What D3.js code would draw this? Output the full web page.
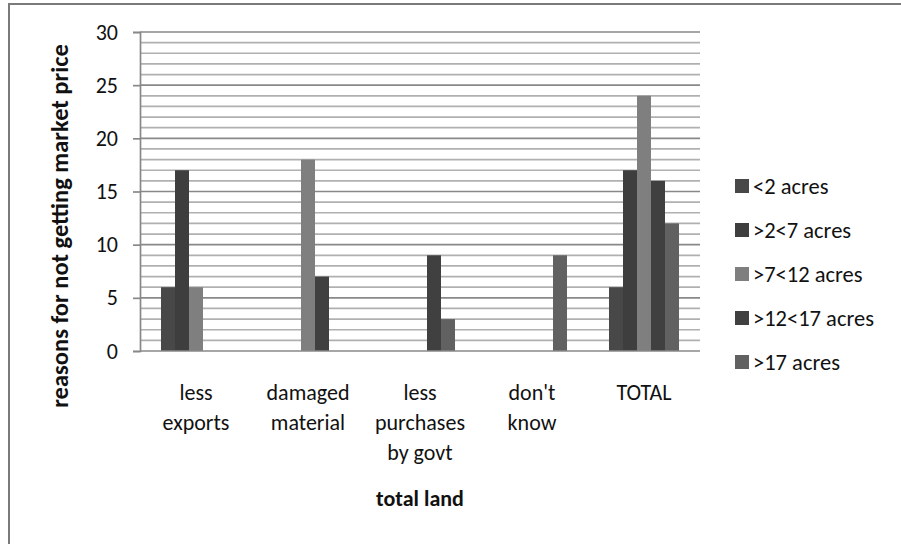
<!DOCTYPE html>
<html>
<head>
<meta charset="utf-8">
<script src="https://cdn.jsdelivr.net/npm/d3@7"></script>
<style>
  html, body { margin: 0; padding: 0; background: #fff; }
  svg { display: block; }
  text { font-family: Carlito, Lato, "Open Sans", sans-serif; fill: #111; }
</style>
</head>
<body>
<svg id="chart" width="901" height="544"></svg>
<script>
// Reasons for not getting market price, by total land holding
const categories = [
  ["less", "exports"],
  ["damaged", "material"],
  ["less", "purchases", "by govt"],
  ["don't", "know"],
  ["TOTAL"]
];
const seriesNames = ["<2 acres", ">2<7 acres", ">7<12 acres", ">12<17 acres", ">17 acres"];
const seriesColors = ["#484848", "#3e3e3e", "#7f7f7f", "#404040", "#616161"];
// one row per series, one value per category (null = no bar)
const lt2 = [6, null, null, null, 6];
const from2to7 = [17, null, null, null, 17];
const from7to12 = [6, 18, null, null, 24];
const from12to17 = [null, 7, 9, null, 16];
const gt17 = [null, null, 3, 9, 12];
const seriesValues = [lt2, from2to7, from7to12, from12to17, gt17];
const yTicks = [0, 5, 10, 15, 20, 25, 30];

const svg = d3.select("#chart");
const plot = { left: 140, right: 700, top: 32, bottom: 351 };

// outer frame of the chart area
svg.append("path")
  .attr("d", "M9,544 V4 H901")
  .attr("fill", "none")
  .attr("stroke", "#7a7a7a")
  .attr("stroke-width", 2);

const catKeys = categories.map((c, i) => i);
const x = d3.scaleBand().domain(catKeys).range([plot.left, plot.right])
  .paddingInner(0.375).paddingOuter(0.1875);
const xs = d3.scaleBand().domain(d3.range(seriesNames.length)).range([0, x.bandwidth()]);
const y = d3.scaleLinear().domain([0, 30]).range([plot.bottom, plot.top]);

// minor gridlines every unit, major every five
const grid = svg.append("g");
grid.selectAll("line.minor")
  .data(d3.range(1, 30).filter(v => v % 5 !== 0))
  .join("line")
  .attr("x1", plot.left).attr("x2", plot.right)
  .attr("y1", d => y(d)).attr("y2", d => y(d))
  .attr("stroke", "#b0b0b0").attr("stroke-width", 1.7);
grid.selectAll("line.major")
  .data(yTicks.filter(v => v > 0))
  .join("line")
  .attr("x1", plot.left).attr("x2", plot.right)
  .attr("y1", d => y(d)).attr("y2", d => y(d))
  .attr("stroke", "#888888").attr("stroke-width", 1.7);

// bars
const bars = [];
seriesValues.forEach((vals, s) => vals.forEach((v, c) => {
  if (v != null) bars.push({ s, c, v });
}));
svg.append("g").selectAll("rect")
  .data(bars)
  .join("rect")
  .attr("x", d => x(d.c) + xs(d.s))
  .attr("width", xs.bandwidth())
  .attr("y", d => y(d.v))
  .attr("height", d => y(0) - y(d.v))
  .attr("fill", d => seriesColors[d.s]);

// y axis
const yAxis = svg.append("g")
  .attr("transform", `translate(${plot.left},0)`)
  .call(d3.axisLeft(y).tickValues(yTicks).tickSize(7).tickPadding(15));
yAxis.select(".domain").attr("stroke", "#888888").attr("stroke-width", 1.7);
yAxis.selectAll(".tick line").attr("stroke", "#888888").attr("stroke-width", 1.7);
yAxis.selectAll(".tick text")
  .attr("font-size", 22).attr("fill", "#111")
  .style("font-family", "Carlito, Lato, 'Open Sans', sans-serif");

// x axis baseline
svg.append("line")
  .attr("x1", plot.left).attr("x2", plot.right)
  .attr("y1", y(0)).attr("y2", y(0))
  .attr("stroke", "#888888").attr("stroke-width", 1.7);

// category labels
const catLabels = svg.append("g").selectAll("text")
  .data(categories)
  .join("text")
  .attr("text-anchor", "middle")
  .attr("font-size", 22)
  .attr("x", (d, i) => x(i) + x.bandwidth() / 2);
catLabels.selectAll("tspan")
  .data(d => d)
  .join("tspan")
  .attr("x", function () { return d3.select(this.parentNode).attr("x"); })
  .attr("y", (d, i) => 392 + i * 30)
  .attr("dominant-baseline", "central")
  .text(d => d);

// axis titles
svg.append("text")
  .attr("x", (plot.left + plot.right) / 2)
  .attr("y", 498)
  .attr("text-anchor", "middle")
  .attr("dominant-baseline", "central")
  .attr("font-size", 22)
  .attr("font-weight", "bold")
  .text("total land");

svg.append("text")
  .attr("transform", `translate(60,226) rotate(-90)`)
  .attr("text-anchor", "middle")
  .attr("dominant-baseline", "central")
  .attr("font-size", 24.5)
  .attr("font-weight", "bold")
  .text("reasons for not getting market price");

// legend
const legend = svg.append("g").attr("transform", "translate(735,186)");
const item = legend.selectAll("g")
  .data(seriesNames)
  .join("g")
  .attr("transform", (d, i) => `translate(0,${i * 44})`);
item.append("rect")
  .attr("x", 0).attr("y", -7)
  .attr("width", 14).attr("height", 14)
  .attr("fill", (d, i) => seriesColors[i]);
item.append("text")
  .attr("x", 18).attr("y", 0)
  .attr("dominant-baseline", "central")
  .attr("font-size", 22.5)
  .text(d => d);
</script>
</body>
</html>
